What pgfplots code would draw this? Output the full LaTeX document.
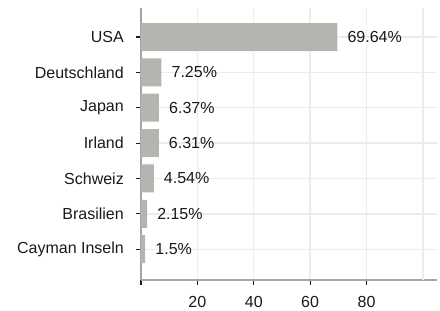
\documentclass[border=0pt]{standalone}
\usepackage{pgfplots}
\pgfplotsset{compat=1.18}
\usepackage{fontspec}
\setmainfont{Liberation Sans}
\definecolor{barc}{RGB}{181,180,176}
\definecolor{gridc}{RGB}{236,236,236}
\definecolor{axc}{RGB}{165,165,165}
\definecolor{txt}{RGB}{25,25,25}
\begin{document}
\begin{tikzpicture}
\path[use as bounding box] (0,0) rectangle (440pt,311pt);
\begin{axis}[
  at={(141pt,31pt)}, anchor=south west,
  scale only axis, width=296pt, height=272pt,
  xbar, bar width=28pt,
  xmin=0, xmax=105, ymin=-0.87, ymax=6.82,
  ytick={0,...,6},
  yticklabels={Cayman Inseln, Brasilien, Schweiz, Irland, Japan, Deutschland, USA},
  xtick={0,20,40,60,80}, xticklabels={,20,40,60,80},
  extra x ticks={100}, extra x tick labels={},
  extra x tick style={xmajorgrids=true, major tick length=0pt},
  xmajorgrids, ymajorgrids,
  grid style={gridc, line width=1.3pt},
  axis x line*=bottom, axis y line*=left,
  axis line style={axc, line width=1.5pt},
  tick align=outside, major tick length=5pt,
  tick style={txt, line width=1.1pt},
  ticklabel style={font=\fontsize{16}{17}\selectfont, text=txt, inner sep=0pt},
  yticklabel style={xshift=-12pt},
  xticklabel style={yshift=-11pt},
  /pgf/number format/assume math mode=true,
  point meta=explicit symbolic,
  nodes near coords,
  every node near coord/.append style={anchor=west, inner sep=0pt, xshift=10pt,
    font=\fontsize{16}{17}\selectfont, text=txt},
]
\addplot[fill=barc, draw=none] coordinates {
  (1.5,0) [1.5\%]
  (2.15,1) [2.15\%]
  (4.54,2) [4.54\%]
  (6.31,3) [6.31\%]
  (6.37,4) [6.37\%]
  (7.25,5) [7.25\%]
  (69.64,6) [69.64\%]
};
\end{axis}
\end{tikzpicture}
\end{document}
